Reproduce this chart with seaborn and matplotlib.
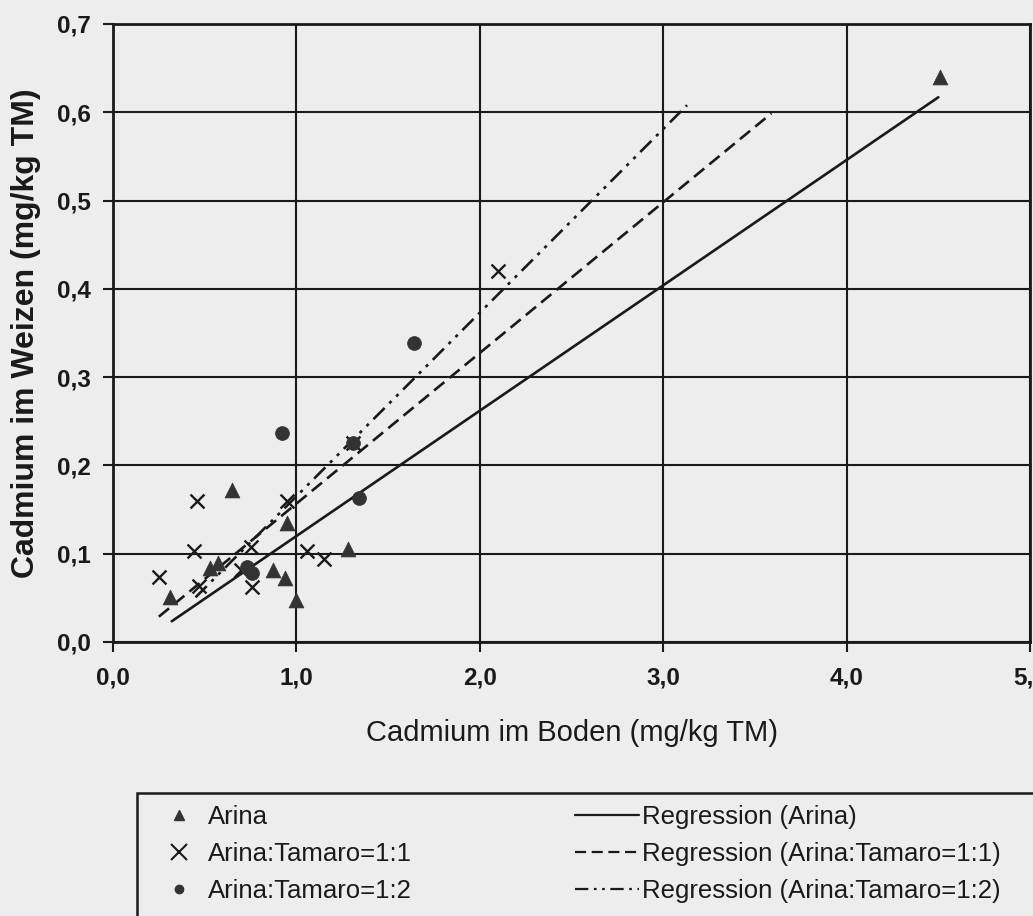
import matplotlib
matplotlib.use("Agg")

import matplotlib.pyplot as plt
import numpy as np
import pandas as pd
import seaborn as sns
from matplotlib.lines import Line2D
from matplotlib.patches import Rectangle

PAPER = "#ededed"
INK = "#1a1a1a"
MARK = "#333333"

# measured points: Cd in soil (x) vs Cd in wheat (y), mg/kg TM
arina_x = [0.31, 0.53, 0.57, 0.65, 0.87, 0.94, 0.95, 1.00, 1.28, 4.51]
arina_y = [0.051, 0.084, 0.089, 0.172, 0.082, 0.072, 0.135, 0.048, 0.105, 0.640]

mix11_x = [0.25, 0.44, 0.46, 0.47, 0.70, 0.75, 0.76, 0.95, 1.06, 1.15, 1.31, 2.10]
mix11_y = [0.074, 0.103, 0.160, 0.063, 0.081, 0.108, 0.062, 0.160, 0.103, 0.094, 0.225, 0.420]

mix12_x = [0.73, 0.76, 0.92, 1.31, 1.34, 1.64]
mix12_y = [0.085, 0.078, 0.237, 0.225, 0.163, 0.339]

# regression lines
reg_labels = ["Regression (Arina)", "Regression (Arina:Tamaro=1:1)", "Regression (Arina:Tamaro=1:2)"]
reg_slope = [0.142, 0.1707, 0.208]
reg_icept = [-0.022, -0.014, -0.043]
reg_xmin = [0.32, 0.25, 0.45]
reg_xmax = [4.50, 3.59, 3.13]

point_labels = ["Arina", "Arina:Tamaro=1:1", "Arina:Tamaro=1:2"]

x_ticks = [0, 1, 2, 3, 4, 5]
x_ticklabels = ["0,0", "1,0", "2,0", "3,0", "4,0", "5,0"]
y_ticks = [0.0, 0.1, 0.2, 0.3, 0.4, 0.5, 0.6, 0.7]
y_ticklabels = ["0,0", "0,1", "0,2", "0,3", "0,4", "0,5", "0,6", "0,7"]

sns.set_theme(style="white")
plt.rcParams["font.family"] = ["Liberation Sans", "DejaVu Sans"]

fig = plt.figure(figsize=(10.33, 9.16), dpi=100, facecolor=PAPER)
ax = fig.add_axes([113 / 1033, 1 - 642 / 916, 917 / 1033, 618 / 916])
ax.set_facecolor(PAPER)

points = pd.concat([
    pd.DataFrame({"x": arina_x, "y": arina_y, "Sorte": point_labels[0]}),
    pd.DataFrame({"x": mix11_x, "y": mix11_y, "Sorte": point_labels[1]}),
    pd.DataFrame({"x": mix12_x, "y": mix12_y, "Sorte": point_labels[2]}),
])

sns.scatterplot(data=points[points["Sorte"] == point_labels[0]], x="x", y="y",
                marker="^", s=115, color=MARK, edgecolor=MARK, linewidth=0.5,
                legend=False, ax=ax, zorder=4)
sns.scatterplot(data=points[points["Sorte"] == point_labels[1]], x="x", y="y",
                marker="x", s=100, color=INK, linewidth=1.7,
                legend=False, ax=ax, zorder=4)
sns.scatterplot(data=points[points["Sorte"] == point_labels[2]], x="x", y="y",
                marker="o", s=100, color=MARK, edgecolor=MARK, linewidth=0.5,
                legend=False, ax=ax, zorder=4)

styles = [dict(linestyle="-"), dict(dashes=(5, 2.5)), dict(dashes=(6, 2.5, 1.2, 2.5, 1.2, 2.5))]
for k in range(3):
    xs = np.array([reg_xmin[k], reg_xmax[k]])
    ys = reg_slope[k] * xs + reg_icept[k]
    ax.plot(xs, ys, color=INK, linewidth=1.9, zorder=3, **styles[k])

ax.set_xlim(0, 5)
ax.set_ylim(0, 0.7)
ax.set_xticks(x_ticks)
ax.set_xticklabels(x_ticklabels)
ax.set_yticks(y_ticks)
ax.set_yticklabels(y_ticklabels)
ax.grid(True, color=INK, linewidth=1.5)
ax.set_axisbelow(True)
for sp in ax.spines.values():
    sp.set_color(INK)
    sp.set_linewidth(2)
ax.tick_params(axis="both", direction="out", length=7, width=1.5, color=INK,
               labelsize=17.5, labelcolor=INK, left=True, bottom=True)
ax.tick_params(axis="x", pad=11)
ax.tick_params(axis="y", pad=9)
for t in ax.get_xticklabels() + ax.get_yticklabels():
    t.set_fontweight("bold")

ax.set_xlabel("Cadmium im Boden (mg/kg TM)", fontsize=21, color=INK)
ax.set_ylabel("Cadmium im Weizen (mg/kg TM)", fontsize=23, fontweight="bold", color=INK)
ax.xaxis.set_label_coords(0.5, -0.125)
ax.yaxis.set_label_coords(-0.078, 0.5)

# legend box below the plot, running past the page edge
fig.patches.append(Rectangle((137 / 1033, -0.02), 0.95, 1 - 793 / 916 + 0.02,
                             transform=fig.transFigure, fill=False,
                             edgecolor=INK, linewidth=1.8, clip_on=False))

mk_handles = [
    Line2D([], [], marker="^", linestyle="none", markersize=7, color=MARK),
    Line2D([], [], marker="x", linestyle="none", markersize=11, markeredgewidth=1.5, color=INK),
    Line2D([], [], marker="o", linestyle="none", markersize=6, color=MARK),
]
ln_handles = [Line2D([], [], color=INK, linewidth=1.6, **styles[k]) for k in range(3)]

leg1 = fig.legend(mk_handles, point_labels, loc="upper left",
                  bbox_to_anchor=(142 / 1033, 1 - 782 / 916), frameon=False,
                  fontsize=18.5, handlelength=1.1, handletextpad=0.55, labelspacing=0.5,
                  labelcolor=INK)
leg2 = fig.legend(ln_handles, reg_labels, loc="upper left",
                  bbox_to_anchor=(552 / 1033, 1 - 782 / 916), frameon=False,
                  fontsize=18.5, handlelength=2.5, handletextpad=0.1, labelspacing=0.5,
                  labelcolor=INK)

fig.savefig("out.png", dpi=100, facecolor=PAPER)
